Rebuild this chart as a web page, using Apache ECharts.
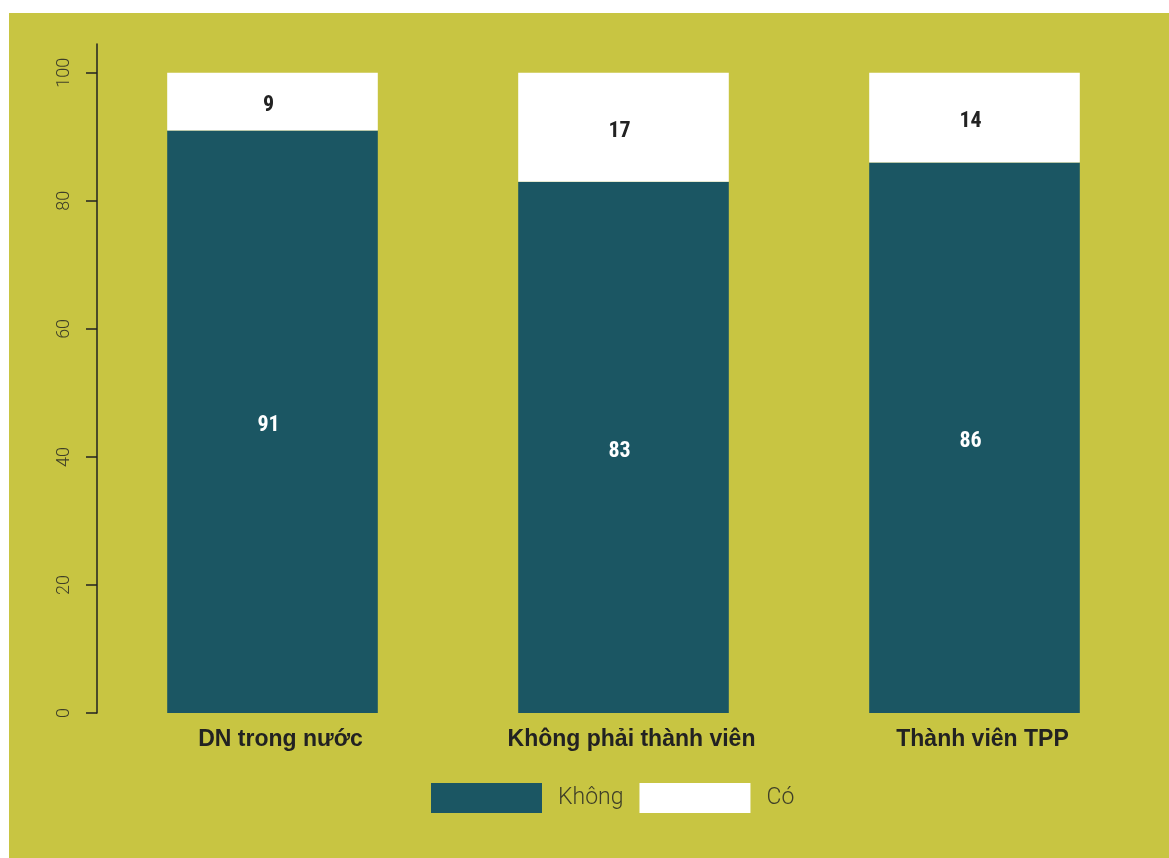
<!DOCTYPE html>
<html><head><meta charset="utf-8">
<script src="https://cdn.jsdelivr.net/npm/echarts@6/dist/echarts.min.js"></script>
<style>
html,body{margin:0;padding:0;background:#fff;width:1169px;height:858px;overflow:hidden}
#c{position:absolute;left:9px;top:13px;width:1160px;height:845px;background:#C8C542}
</style></head><body>
<div id="c"></div>
<script>
const categories = ['DN trong nước', 'Không phải thành viên', 'Thành viên TPP'];
const khong = [91, 83, 86];
const co = [9, 17, 14];
const seriesNames = ['Không', 'Có'];
const yTicks = [0, 20, 40, 60, 80, 100];

const chart = echarts.init(document.getElementById('c'));
const labelFont = "'Roboto Condensed','Liberation Sans Narrow',Roboto,sans-serif";
chart.setOption({
  backgroundColor: '#C8C542',
  animation: false,
  grid: {left: 88, right: 19, top: 31, bottom: 145},
  legend: {
    left: 417, top: 765,
    itemWidth: 111, itemHeight: 30, itemGap: 16,
    icon: 'rect',
    textStyle: {fontFamily: 'Roboto', fontWeight: 300, fontSize: 23, color: '#3f3f28', padding: [3, 0, 0, 11]},
    data: seriesNames
  },
  xAxis: {
    type: 'category', data: categories,
    axisLine: {show: false}, axisTick: {show: false},
    axisLabel: {fontFamily: "'Liberation Sans',Arial,sans-serif", fontWeight: 'bold', fontSize: 23, color: '#222', margin: 15, padding: [0, 0, 0, 16]}
  },
  yAxis: {
    type: 'value', min: 0, max: 104.5, interval: 20,
    splitLine: {show: false},
    axisLine: {show: true, onZero: false, lineStyle: {color: '#222', width: 1.5}},
    axisTick: {show: true, length: 11, customValues: yTicks, lineStyle: {color: '#222', width: 1.5}},
    axisLabel: {customValues: yTicks, rotate: 90, margin: 24, fontFamily: 'Roboto', fontWeight: 300, fontSize: 18, color: '#3f3f28'}
  },
  series: [
    {name: seriesNames[0], type: 'bar', stack: 's', data: khong, barWidth: '60%',
     itemStyle: {color: '#1B5663'},
     label: {show: true, position: 'inside', offset: [-4, 4], color: '#fff', fontFamily: labelFont, fontWeight: 'bold', fontSize: 22}},
    {name: seriesNames[1], type: 'bar', stack: 's', data: co, barWidth: '60%',
     itemStyle: {color: '#ffffff'},
     label: {show: true, position: 'inside', offset: [-4, 4], color: '#222', fontFamily: labelFont, fontWeight: 'bold', fontSize: 22}}
  ]
});
</script></body></html>
